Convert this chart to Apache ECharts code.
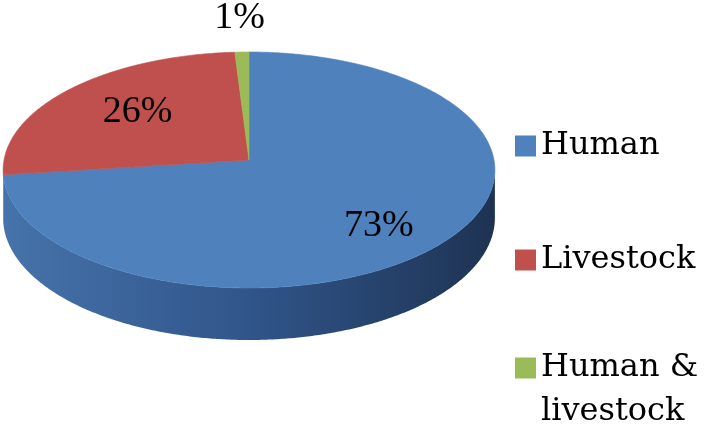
<!DOCTYPE html>
<html>
<head>
<meta charset="utf-8">
<script src="https://cdn.jsdelivr.net/npm/echarts@6/dist/echarts.min.js"></script>
<style>
html,body{margin:0;padding:0;background:#fff;}
#chart{width:707px;height:430px;}
</style>
</head>
<body>
<div id="chart"></div>
<script>
// ---- data ----
const categories = ['Human', 'Livestock', 'Human & livestock'];
const values = [73, 26, 1];
const legendLabels = ['Human', 'Livestock', '\nHuman &\nlivestock'];

// ---- styles / layout ----
const topColors = ['#4f81bd', '#c0504d', '#9bbb59'];
const sideStops = [
  [['#4673ab', 0], ['#30558a', 0.5], ['#1e3353', 1]],
  [['#8e3a38', 0], ['#7a302e', 1]],
  [['#748c42', 0], ['#5f7336', 1]]
];
const labelFont = '38px "Liberation Serif"';
const labelRadius = [0.68, 0.61, 1.35];
const labelDy = [11, -4, 0];

// ---- geometry (projected tilted disc) ----
const CX = 249, CY = 160, RX = 245, A = 103.6, PC = -0.0847, DEPTH = 47.6;
function proj(deg, f) {
  const t = deg * Math.PI / 180;
  const u = Math.sin(t) * f, v = -Math.cos(t) * f;
  const d = 1 + PC * v;
  return [CX + RX * u / d, (A * v + CY) / d, DEPTH / d];
}
const total = values.reduce((a, b) => a + b, 0);
const cum = [];
values.reduce((acc, v, i) => { cum[i] = acc; return acc + v; }, 0);
const SIDE_FROM = 94.86, SIDE_TO = 265.14;

function arc(a0, a1, f) {
  const pts = [];
  const n = Math.max(2, Math.ceil(Math.abs(a1 - a0) / 0.5));
  for (let k = 0; k <= n; k++) {
    pts.push(proj(a0 + (a1 - a0) * k / n, f));
  }
  return pts;
}

function makeRender(i) {
  return function (params, api) {
    const val = api.value(0);
    const start = cum[i] / total * 360;
    const end = start + val / total * 360;
    const children = [];
    // side
    const s0 = Math.max(start, SIDE_FROM), s1 = Math.min(end, SIDE_TO);
    if (s1 > s0) {
      const topEdge = arc(s0, s1, 1);
      const pts = topEdge.map(p => [p[0], p[1]]);
      for (let k = topEdge.length - 1; k >= 0; k--) {
        pts.push([topEdge[k][0], topEdge[k][1] + topEdge[k][2]]);
      }
      const stops = sideStops[i].map(s => ({ offset: s[1], color: s[0] }));
      children.push({
        type: 'polygon',
        shape: { points: pts },
        style: { fill: new echarts.graphic.LinearGradient(0, 0, 1, 0, stops), stroke: null }
      });
    }
    // top face
    const c = proj(0, 0);
    const topPts = [[c[0], c[1]]].concat(arc(start, end, 1).map(p => [p[0], p[1]]));
    children.push({
      type: 'polygon',
      shape: { points: topPts },
      style: { fill: topColors[i], stroke: topColors[i], lineWidth: 0.6 }
    });
    // label
    const pct = Math.round(val / total * 100) + '%';
    const mid = (start + end) / 2;
    const lp = proj(mid, labelRadius[i]);
    children.push({
      type: 'text',
      z2: 10,
      style: {
        text: pct, x: lp[0], y: lp[1] + labelDy[i],
        align: 'center', verticalAlign: 'middle',
        font: labelFont, fill: '#000'
      }
    });
    return { type: 'group', children: children };
  };
}

const series = categories.map((name, i) => ({
  type: 'custom',
  name: name,
  coordinateSystem: 'none',
  itemStyle: { color: topColors[i] },
  renderItem: makeRender(i),
  data: [values[i]],
  animation: false,
  silent: true
}));

const legendTops = [130, 244, 302];
const legends = categories.map((name, i) => ({
  data: [name],
  left: 515,
  top: legendTops[i],
  padding: 0,
  orient: 'vertical',
  icon: 'rect',
  itemWidth: 21,
  itemHeight: 21,
  selectedMode: false,
  formatter: () => legendLabels[i],
  textStyle: {
    fontFamily: 'DejaVu Serif',
    fontSize: 32,
    lineHeight: i === 2 ? 44 : 21,
    color: '#000'
  }
}));

const chart = echarts.init(document.getElementById('chart'), null, { renderer: 'canvas' });
chart.setOption({
  backgroundColor: '#ffffff',
  animation: false,
  legend: legends,
  series: series
});
</script>
</body>
</html>
